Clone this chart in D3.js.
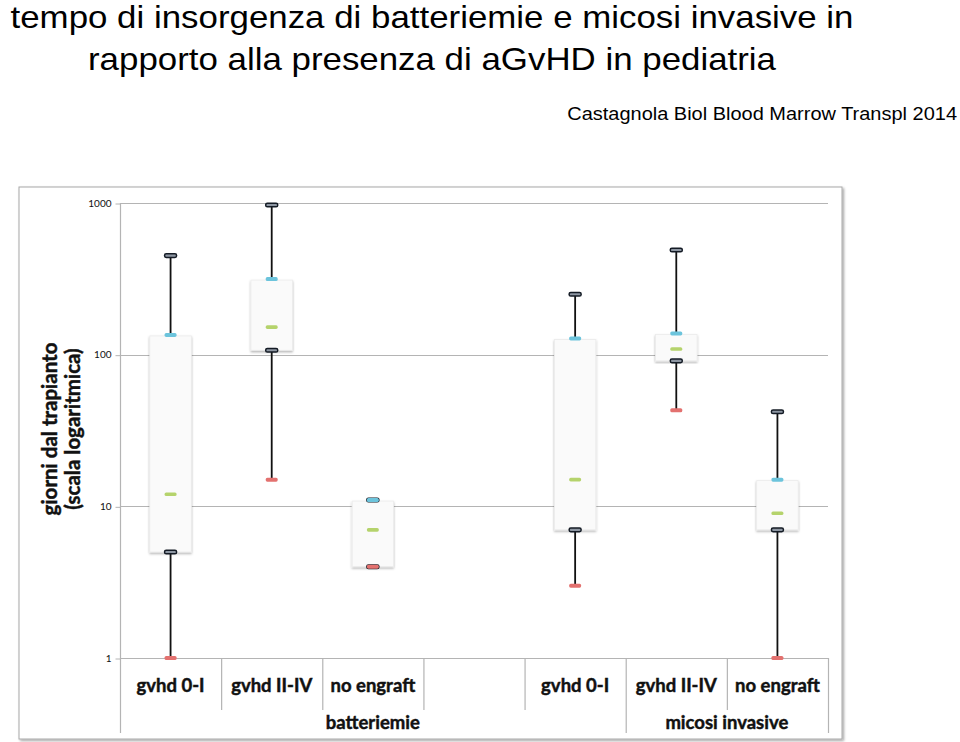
<!DOCTYPE html>
<html><head><meta charset="utf-8">
<script src="https://cdn.jsdelivr.net/npm/d3@7"></script>
<style>
html,body{margin:0;padding:0;background:#fff;}
svg{display:block;}
</style></head>
<body>
<script>
// ---- data ----
const titleLines = ["tempo di insorgenza di batteriemie e micosi invasive in", "rapporto alla presenza di aGvHD in pediatria"];
const subtitle = "Castagnola Biol Blood Marrow Transpl 2014";
const yAxisTitle = ["giorni dal trapianto", "(scala logaritmica)"];
const categories = ["gvhd 0-I", "gvhd II-IV", "no engraft", "", "gvhd 0-I", "gvhd II-IV", "no engraft"];
const groupLabels = ["batteriemie", "micosi invasive"];
const groupSizes = [5, 2];
const minVals    = [1,   15,  4,  null, 3,   43,  1];
const q1Vals     = [5,   107, 4,  null, 7,   91,  7];
const medianVals = [12,  152, 7,  null, 15,  109, 9];
const q3Vals     = [135, 315, 11, null, 128, 138, 15];
const maxVals    = [450, 970, 11, null, 250, 490, 42];
const yTicks = [1, 10, 100, 1000];

const W = 960, H = 742;
const svg = d3.select("body").append("svg").attr("width", W).attr("height", H);

const defs = svg.append("defs");
const f = defs.append("filter").attr("id", "panelShadow").attr("x", "-5%").attr("y", "-5%").attr("width", "110%").attr("height", "110%");
f.append("feDropShadow").attr("dx", 1.5).attr("dy", 1.5).attr("stdDeviation", 1.2).attr("flood-color", "#000").attr("flood-opacity", 0.35);
const fb = defs.append("filter").attr("id", "boxShadow").attr("x", "-30%").attr("y", "-10%").attr("width", "160%").attr("height", "120%");
fb.append("feDropShadow").attr("dx", 0).attr("dy", 1.5).attr("stdDeviation", 1.2).attr("flood-color", "#000").attr("flood-opacity", 0.3);

// titles (slightly stretched horizontally like the reference)
const tt = svg.append("text").attr("transform", "translate(432,0) scale(1.125,1)")
  .attr("font-family", "Liberation Sans, Arial, sans-serif").attr("font-size", 31).attr("fill", "#000").attr("text-anchor", "middle");
titleLines.forEach((t, i) => tt.append("tspan").attr("x", 0).attr("y", 28 + i * 42).text(t));
svg.append("text").attr("transform", "translate(957,120) scale(1.08,1)").attr("text-anchor", "end")
  .attr("font-family", "Liberation Sans, Arial, sans-serif").attr("font-size", 18.5).text(subtitle);

// panel
svg.append("rect").attr("x", 19).attr("y", 187).attr("width", 823).attr("height", 552)
  .attr("fill", "#fff").attr("stroke", "#a8a8a8").attr("stroke-width", 1).attr("filter", "url(#panelShadow)");

const x0 = 120, x1 = 828, yTop = 203, yBot = 658;
const y = d3.scaleLog().domain([1, 1000]).range([yBot, yTop]);
const x = d3.scaleBand().domain(d3.range(categories.length)).range([x0, x1]).padding(0);
const bw = x.bandwidth();

// gridlines
svg.append("g").selectAll("line").data(yTicks).join("line")
  .attr("x1", x0).attr("x2", x1).attr("y1", d => Math.round(y(d)) + 0.5).attr("y2", d => Math.round(y(d)) + 0.5)
  .attr("stroke", "#b4b4b4").attr("stroke-width", 1.2);

// axis
const ax = svg.append("g").attr("transform", `translate(${x0 + 0.5},0)`)
  .call(d3.axisLeft(y).tickValues(yTicks).tickFormat(d3.format("d")).tickSize(5).tickPadding(4));
ax.select(".domain").remove();
ax.selectAll(".tick line").attr("stroke", "#b4b4b4").attr("transform", "translate(0,0.5)");
ax.selectAll(".tick text").attr("font-family", "Lato, Carlito, sans-serif").attr("font-size", 10).attr("fill", "#111");
svg.append("line").attr("x1", x0 + 0.5).attr("x2", x0 + 0.5).attr("y1", yTop).attr("y2", 733).attr("stroke", "#b4b4b4").attr("stroke-width", 1.2);

// category dividers
const bounds = d3.range(categories.length + 1).map(i => i === categories.length ? x1 : x(i));
const groupEdges = [0];
groupSizes.forEach(s => groupEdges.push(groupEdges[groupEdges.length - 1] + s));
bounds.forEach((bx, i) => {
  if (i === 0) return;
  const full = groupEdges.includes(i);
  svg.append("line").attr("x1", bx + 0.5).attr("x2", bx + 0.5).attr("y1", yBot).attr("y2", full ? 733 : 710)
    .attr("stroke", "#b4b4b4").attr("stroke-width", 1.2);
});

// category labels
const labelStyle = sel => sel.attr("font-family", "Lato, sans-serif").attr("font-weight", "bold")
  .attr("font-size", 18.5).attr("fill", "#111").attr("stroke", "#111").attr("stroke-width", 0.45);
svg.append("g").selectAll("text").data(categories).join("text")
  .attr("x", (d, i) => x(i) + bw / 2).attr("y", 692).attr("text-anchor", "middle")
  .call(labelStyle).text(d => d);
svg.append("g").selectAll("text").data(groupLabels).join("text")
  .attr("x", (d, i) => (bounds[groupEdges[i]] + bounds[groupEdges[i + 1]]) / 2).attr("y", 729).attr("text-anchor", "middle")
  .call(labelStyle).text(d => d);

// y axis title
const yt = svg.append("text").attr("transform", "translate(0,429) rotate(-90)").attr("text-anchor", "middle")
  .call(labelStyle).attr("font-size", 20.5);
yAxisTitle.forEach((t, i) => yt.append("tspan").attr("x", 0).attr("y", 57 + i * 23).text(t));

// boxes
const idx = d3.range(categories.length).filter(i => minVals[i] != null);
const cx = i => x(i) + bw / 2;
const boxW = bw * 0.41;
const g = svg.append("g");
// whiskers
g.selectAll("line.w").data(idx).join("line").attr("class", "w")
  .attr("x1", cx).attr("x2", cx).attr("y1", i => y(maxVals[i])).attr("y2", i => y(minVals[i]))
  .attr("stroke", "#111").attr("stroke-width", 1.8);
// box
g.selectAll("rect.b").data(idx).join("rect").attr("class", "b")
  .attr("x", i => cx(i) - boxW / 2).attr("width", boxW)
  .attr("y", i => y(q3Vals[i]) + 1).attr("height", i => y(q1Vals[i]) - y(q3Vals[i]) - 1)
  .attr("fill", "#fafafa").attr("stroke", "#ececec").attr("stroke-width", 0.8).attr("filter", "url(#boxShadow)");

function caps(vals, fill, stroke, h) {
  g.append("g").selectAll("rect").data(idx).join("rect")
    .attr("x", i => cx(i) - 6).attr("width", 12)
    .attr("y", i => y(vals[i]) - h / 2).attr("height", h).attr("rx", 1.6)
    .attr("fill", fill).attr("stroke", stroke).attr("stroke-width", stroke === "none" ? 0 : 1.5);
}
caps(maxVals, "#8d96a2", "#141b25", 3.6);
caps(q1Vals, "#8d96a2", "#141b25", 3.6);
caps(q3Vals, "#6cc4dc", "none", 4);
caps(medianVals, "#b5d36c", "none", 3.6);
caps(minVals, "#e3716f", "none", 4);
</script>
</body></html>
